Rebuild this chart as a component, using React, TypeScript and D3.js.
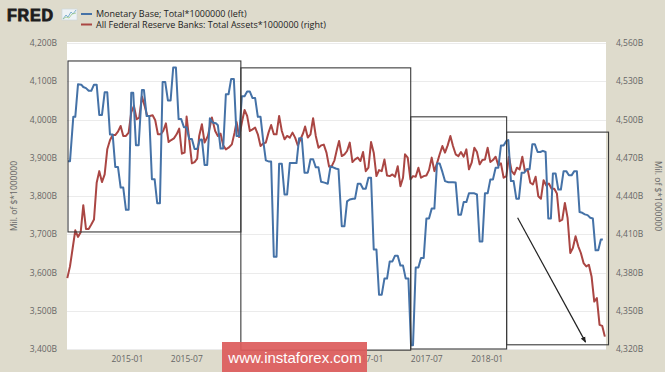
import * as d3 from 'd3'
import { useEffect, useRef } from 'react'

// [months since 2014-07, value in billions]
const monetaryBase: [number, number][] = [
  [0.1, 3891], [0.3, 3891], [0.63, 4007], [0.83, 4007], [1.1, 4092], [1.43, 4091], [1.63, 4085], [1.9, 4082],
  [2.17, 4075], [2.43, 4075], [2.7, 4091], [2.97, 4091], [3.23, 4012], [3.5, 4012], [3.77, 4071], [4.03, 4071],
  [4.3, 3961], [4.57, 3961], [4.83, 3876], [5.1, 3876], [5.37, 3822], [5.63, 3822], [5.9, 3764], [6.17, 3764],
  [6.43, 4070], [6.63, 4070], [6.9, 3933], [7.17, 3933], [7.5, 4077], [7.7, 4077], [7.97, 4009], [8.23, 4009],
  [8.5, 3844], [8.77, 3844], [9.03, 3781], [9.3, 3781], [9.57, 4098], [9.83, 4098], [10.1, 4050], [10.37, 4050],
  [10.63, 4136], [10.9, 4136], [11.17, 4001], [11.43, 4001], [11.7, 3980], [11.97, 3980], [12.23, 3949], [12.5, 3949],
  [12.77, 3923], [13.03, 3923], [13.3, 3947], [13.5, 3948], [13.77, 3881], [14.03, 3881], [14.3, 4003], [14.57, 3992],
  [14.9, 3990], [15.1, 3985], [15.37, 3924], [15.63, 3924], [15.9, 4066], [16.17, 4066], [16.43, 4106], [16.7, 4106],
  [16.97, 3957], [17.23, 3957], [17.5, 4061], [17.77, 4061], [18.03, 4073], [18.3, 4073], [18.57, 4056], [18.83, 4056],
  [19.1, 4007], [19.37, 4007], [19.63, 3946], [19.9, 3893], [20.23, 3890], [20.43, 3890], [20.7, 3641], [20.97, 3641],
  [21.23, 3884], [21.5, 3884], [21.77, 3804], [22.03, 3804], [22.3, 3886], [22.63, 3886], [22.97, 3886], [23.23, 3951],
  [23.5, 3951], [23.77, 3861], [24.1, 3861], [24.37, 3896], [24.63, 3896], [24.9, 3875], [25.17, 3875], [25.43, 3837],
  [25.77, 3835], [26.1, 3832], [26.37, 3877], [26.63, 3875], [26.9, 3872], [27.17, 3870], [27.5, 3721], [27.77, 3721],
  [28.03, 3786], [28.3, 3791], [28.63, 3793], [28.83, 3793], [29.1, 3832], [29.37, 3832], [29.63, 3819], [29.9, 3819],
  [30.17, 3848], [30.43, 3848], [30.7, 3660], [30.97, 3660], [31.23, 3542], [31.5, 3542], [31.77, 3584], [32.03, 3584],
  [32.3, 3629], [32.57, 3629], [32.83, 3644], [33.1, 3644], [33.37, 3618], [33.63, 3618], [33.9, 3584], [34.17, 3584],
  [34.43, 3410], [34.63, 3410], [34.9, 3613], [35.17, 3613], [35.43, 3638], [35.7, 3638], [35.97, 3741], [36.23, 3741],
  [36.5, 3767], [36.77, 3767], [37.03, 3885], [37.3, 3885], [37.57, 3863], [37.83, 3839], [38.17, 3836], [38.4, 3836],
  [38.63, 3836], [38.9, 3835], [39.17, 3751], [39.43, 3751], [39.7, 3784], [39.97, 3784], [40.23, 3807], [40.5, 3807],
  [40.77, 3807], [41.03, 3804], [41.3, 3681], [41.57, 3681], [41.83, 3807], [42.1, 3807], [42.37, 3843], [42.63, 3843],
  [42.9, 3874], [43.17, 3874], [43.43, 3932], [43.7, 3932], [43.97, 3944], [44.17, 3946], [44.43, 3839], [44.7, 3839],
  [44.97, 3793], [45.23, 3793], [45.5, 3861], [45.77, 3861], [46.03, 3870], [46.3, 3870], [46.57, 3935], [46.83, 3935],
  [47.1, 3915], [47.37, 3915], [47.63, 3918], [47.9, 3915], [48.17, 3741], [48.43, 3741], [48.63, 3859], [48.9, 3859],
  [49.17, 3817], [49.43, 3817], [49.7, 3865], [49.97, 3865], [50.23, 3854], [50.5, 3854], [50.77, 3865], [51.03, 3865],
  [51.3, 3758], [51.57, 3756], [51.83, 3752], [52.1, 3750], [52.37, 3743], [52.63, 3741], [52.9, 3658], [53.17, 3658],
  [53.43, 3686], [53.63, 3686],
]

const totalAssets: [number, number][] = [
  [0.03, 4375.6], [0.3, 4384.8], [0.57, 4399.2], [0.83, 4413.1], [1.1, 4407.9], [1.37, 4411.5], [1.63, 4432.8], [1.9, 4414.2],
  [2.17, 4414.2], [2.43, 4417.6], [2.7, 4421.5], [2.97, 4450.4], [3.23, 4459.5], [3.5, 4450.9], [3.77, 4456.9], [4.03, 4476.6],
  [4.3, 4483.7], [4.57, 4487.8], [4.83, 4487.8], [5.1, 4490.5], [5.37, 4494.9], [5.63, 4487.1], [5.9, 4487.1], [6.17, 4489.7],
  [6.43, 4505.5], [6.7, 4510.7], [6.97, 4500.2], [7.23, 4501.5], [7.5, 4518.1], [7.77, 4510.7], [8.03, 4502.8], [8.3, 4502.8],
  [8.57, 4503.3], [8.83, 4499.4], [9.1, 4488.4], [9.37, 4488.4], [9.63, 4491], [9.9, 4497], [10.17, 4482.3], [10.43, 4483.9],
  [10.7, 4485.2], [10.97, 4488.4], [11.23, 4492.9], [11.5, 4473.2], [11.77, 4474], [11.97, 4502.3], [12.23, 4484.5], [12.5, 4465.6],
  [12.77, 4466.6], [13.03, 4469.3], [13.23, 4487.1], [13.5, 4496.3], [13.77, 4481.9], [14.1, 4487.1], [14.5, 4501.5], [14.83, 4491],
  [15.1, 4487.1], [15.37, 4488.9], [15.63, 4479.7], [15.9, 4476.6], [16.17, 4477.9], [16.5, 4480.5], [16.77, 4489.7], [16.97, 4498.1],
  [17.23, 4486.3], [17.5, 4497.6], [17.77, 4507.5], [18.03, 4502.8], [18.3, 4491], [18.57, 4492.3], [18.83, 4493.7], [19.1, 4488.4],
  [19.37, 4479.2], [19.63, 4481.1], [19.9, 4481.9], [20.17, 4489.7], [20.43, 4495.7], [20.7, 4488.4], [20.97, 4488.4], [21.23, 4502.8],
  [21.5, 4491], [21.77, 4484.5], [22.03, 4487.1], [22.3, 4485.8], [22.57, 4489.7], [22.83, 4485.8], [23.1, 4479.7], [23.37, 4484.5],
  [23.63, 4489.2], [23.83, 4494.5], [24.1, 4485.8], [24.37, 4488.4], [24.63, 4501], [24.9, 4487.1], [25.17, 4477.9], [25.43, 4479.7],
  [25.7, 4480.3], [25.97, 4474], [26.23, 4463], [26.5, 4463.4], [26.77, 4468], [27.03, 4477], [27.23, 4483.1], [27.5, 4471.3],
  [27.77, 4472.7], [28.03, 4475.3], [28.3, 4481.9], [28.57, 4466.6], [28.83, 4468.7], [29.1, 4470.1], [29.37, 4467.4], [29.63, 4474.5],
  [29.9, 4459.5], [30.17, 4462.2], [30.43, 4482.3], [30.7, 4474], [30.97, 4455.6], [31.23, 4460.3], [31.5, 4459.5], [31.77, 4468.7],
  [32.03, 4456.1], [32.3, 4455.6], [32.57, 4456.9], [32.83, 4455.1], [33.1, 4463.4], [33.37, 4447.7], [33.63, 4454.3], [33.83, 4472.7],
  [34.1, 4470.1], [34.37, 4453], [34.63, 4455.6], [34.9, 4455.1], [35.17, 4462.2], [35.43, 4454.3], [35.7, 4455.6], [35.97, 4456.1],
  [36.23, 4460.3], [36.5, 4470.1], [36.77, 4459.5], [37.03, 4465.6], [37.3, 4472.7], [37.57, 4479.2], [37.83, 4474], [38.1, 4479.7],
  [38.37, 4487.1], [38.63, 4479.2], [38.9, 4472.7], [39.17, 4471.3], [39.43, 4474.5], [39.7, 4470.8], [39.97, 4476.6], [40.23, 4460.9],
  [40.5, 4466.1], [40.77, 4477.9], [41.03, 4474.5], [41.3, 4464.8], [41.57, 4468.2], [41.83, 4468.7], [42.1, 4477.9], [42.37, 4466.6],
  [42.63, 4468.2], [42.9, 4470.8], [43.17, 4464], [43.43, 4465.6], [43.7, 4454.3], [43.97, 4455.6], [44.23, 4470.8], [44.5, 4459.5],
  [44.77, 4456.9], [45.03, 4462.2], [45.3, 4460.9], [45.57, 4470.8], [45.83, 4459.5], [46.1, 4460.9], [46.37, 4450.4], [46.63, 4449],
  [46.9, 4455.1], [47.17, 4439.8], [47.43, 4437.8], [47.7, 4452.4], [47.97, 4448.3], [48.23, 4449.8], [48.5, 4445.7], [48.77, 4445.7],
  [49.03, 4442], [49.3, 4420.2], [49.57, 4421.5], [49.83, 4434.6], [50.1, 4422.8], [50.37, 4395.3], [50.63, 4399.2], [50.9, 4408.4],
  [51.17, 4400.5], [51.43, 4395.3], [51.7, 4387.4], [51.97, 4384.8], [52.23, 4386.1], [52.5, 4376.9], [52.77, 4357.2], [53.03, 4359.9],
  [53.3, 4338.9], [53.57, 4338.1], [53.83, 4329.7],
]

const leftTicks = [3400, 3500, 3600, 3700, 3800, 3900, 4000, 4100, 4200]
const rightTicks = [4320, 4350, 4380, 4410, 4440, 4470, 4500, 4530, 4560]
// 2016-01 and 2016-07 sit fully under the watermark in the source image
const xTickLabels = ['2015-01', '2015-07', '2017-01', '2017-07', '2018-01']

// annotation boxes drawn over the chart: [month0, month1, leftValue top, leftValue bottom]
const boxes: [number, number, number, number][] = [
  [0.1, 17.4, 4153, 3706],
  [17.4, 34.4, 4135, 3397],
  [34.4, 44.0, 4007, 3400],
  [44.0, 54.2, 3967, 3411],
]
const arrow: [number, number][] = [[45.1, 3743], [51.9, 3418]]

const legendItems = [
  { label: 'Monetary Base; Total*1000000 (left)', color: '#4572a7' },
  { label: 'All Federal Reserve Banks: Total Assets*1000000 (right)', color: '#aa4643' },
]

const T0 = new Date(2014, 6, 1)
const monthToDate = (m: number) => new Date(T0.getTime() + m * 30.4375 * 864e5)

export default function App() {
  const ref = useRef<SVGSVGElement | null>(null)

  useEffect(() => {
    const width = 665
    const height = 372
    const left = 67
    const right = 607
    const top = 43
    const bottom = 349
    const font = "'Open Sans', sans-serif"

    const x = d3.scaleTime().domain([T0, new Date(2019, 0, 1)]).range([left, right])
    const yL = d3.scaleLinear().domain([3400, 4200]).range([bottom, top])
    const yR = d3.scaleLinear().domain([4320, 4560]).range([bottom, top])

    const svg = d3.select(ref.current!)
    svg.selectAll('*').remove()

    svg.append('rect').attr('width', width).attr('height', height).attr('fill', '#dedbcc')
    svg.append('rect')
      .attr('x', left).attr('y', top - 1)
      .attr('width', right - 1 - left).attr('height', bottom - top + 2)
      .attr('fill', '#ffffff')

    // grid
    svg.append('g')
      .selectAll('line')
      .data(leftTicks)
      .join('line')
      .attr('x1', left).attr('x2', right - 1)
      .attr('y1', (d) => Math.round(yL(d)) + 0.5).attr('y2', (d) => Math.round(yL(d)) + 0.5)
      .attr('stroke', '#ebebeb')

    // left axis labels
    svg.append('g')
      .selectAll('text')
      .data(leftTicks)
      .join('text')
      .attr('x', 57).attr('y', (d) => yL(d) + 3)
      .attr('text-anchor', 'end')
      .attr('font-size', 8.5).attr('font-family', font).attr('fill', '#666')
      .text((d) => d3.format(',')(d) + 'B')

    // right axis labels
    svg.append('g')
      .selectAll('text')
      .data(rightTicks)
      .join('text')
      .attr('x', 616).attr('y', (d) => yR(d) + 3)
      .attr('font-size', 8.5).attr('font-family', font).attr('fill', '#666')
      .text((d) => d3.format(',')(d) + 'B')

    // axis titles
    svg.append('text')
      .attr('transform', `translate(17,${(top + bottom) / 2}) rotate(-90)`)
      .attr('text-anchor', 'middle')
      .attr('font-size', 8.5).attr('font-family', font).attr('fill', '#666')
      .text('Mil. of $*1000000')
    svg.append('text')
      .attr('transform', `translate(655,${(top + bottom) / 2}) rotate(90)`)
      .attr('text-anchor', 'middle')
      .attr('font-size', 8.5).attr('font-family', font).attr('fill', '#666')
      .text('Mil. of $*1000000')

    // x labels
    const parse = d3.timeParse('%Y-%m')
    svg.append('g')
      .selectAll('text')
      .data(xTickLabels)
      .join('text')
      .attr('x', (d) => x(parse(d)!))
      .attr('y', 362)
      .attr('text-anchor', 'middle')
      .attr('font-size', 8.5).attr('font-family', font).attr('fill', '#666')
      .text((d) => d)

    // lines
    const lineL = d3.line<[number, number]>().x((d) => x(monthToDate(d[0]))).y((d) => yL(d[1]))
    const lineR = d3.line<[number, number]>().x((d) => x(monthToDate(d[0]))).y((d) => yR(d[1]))
    svg.append('path').datum(totalAssets).attr('d', lineR)
      .attr('fill', 'none').attr('stroke', '#aa4643').attr('stroke-width', 2).attr('stroke-linejoin', 'round')
    svg.append('path').datum(monetaryBase).attr('d', lineL)
      .attr('fill', 'none').attr('stroke', '#4572a7').attr('stroke-width', 2).attr('stroke-linejoin', 'round')

    // annotation boxes + arrow
    svg.append('g')
      .selectAll('rect')
      .data(boxes)
      .join('rect')
      .attr('x', (d) => x(monthToDate(d[0])))
      .attr('y', (d) => yL(d[2]))
      .attr('width', (d) => x(monthToDate(d[1])) - x(monthToDate(d[0])))
      .attr('height', (d) => yL(d[3]) - yL(d[2]))
      .attr('fill', 'none').attr('stroke', '#3a3a3a').attr('stroke-width', 1.1)

    svg.append('defs').append('marker')
      .attr('id', 'ah').attr('viewBox', '0 0 10 10').attr('refX', 9).attr('refY', 5)
      .attr('markerWidth', 5).attr('markerHeight', 5).attr('orient', 'auto')
      .append('path').attr('d', 'M0,1 L10,5 L0,9 Z').attr('fill', '#222')
    svg.append('line')
      .attr('x1', x(monthToDate(arrow[0][0]))).attr('y1', yL(arrow[0][1]))
      .attr('x2', x(monthToDate(arrow[1][0]))).attr('y2', yL(arrow[1][1]))
      .attr('stroke', '#222').attr('stroke-width', 1.2).attr('marker-end', 'url(#ah)')

    // header: FRED logo + legend
    svg.append('text')
      .attr('x', 7).attr('y', 20.5)
      .attr('font-size', 16).attr('font-weight', 900).attr('letter-spacing', 0.8)
      .attr('font-family', "'Liberation Sans', Arial, sans-serif").attr('fill', '#1d1d1d')
      .attr('stroke', '#1d1d1d').attr('stroke-width', 0.9)
      .text('FRED')
    const icon = svg.append('g').attr('transform', 'translate(62,9)')
    icon.append('rect').attr('width', 15).attr('height', 11).attr('fill', '#eef3f6').attr('stroke', '#c9d6dd').attr('stroke-width', 0.6)
    icon.append('path').attr('d', 'M1,10 L4,6 L6,8 L9,3 L11,5 L14,1')
      .attr('fill', 'none').attr('stroke', '#7fb0cf').attr('stroke-width', 1)
    icon.append('path').attr('d', 'M1,10 L4,8 L7,9 L10,5 L14,4')
      .attr('fill', 'none').attr('stroke', '#9bc98a').attr('stroke-width', 0.8)

    const leg = svg.append('g')
      .selectAll('g')
      .data(legendItems)
      .join('g')
      .attr('transform', (_, i) => `translate(81,${14 + i * 10.5})`)
    leg.append('line').attr('x1', 0).attr('x2', 11).attr('stroke', (d) => d.color).attr('stroke-width', 2)
    leg.append('text').attr('x', 15).attr('y', 3)
      .attr('font-size', 9).attr('font-family', font).attr('fill', '#222')
      .text((d) => d.label)

    // watermark
    svg.append('rect').attr('x', 222).attr('y', 342).attr('width', 145).attr('height', 30)
      .attr('fill', '#dd5c5c').attr('opacity', 0.93)
    svg.append('text').attr('x', 295).attr('y', 363)
      .attr('text-anchor', 'middle').attr('font-size', 15)
      .attr('font-family', "'Liberation Sans', Arial, sans-serif").attr('fill', '#ffffff')
      .text('www.instaforex.com')
  }, [])

  return (
    <div style={{ position: 'fixed', left: 0, top: 0 }}>
      <svg ref={ref} width={665} height={372} style={{ display: 'block' }} />
    </div>
  )
}
